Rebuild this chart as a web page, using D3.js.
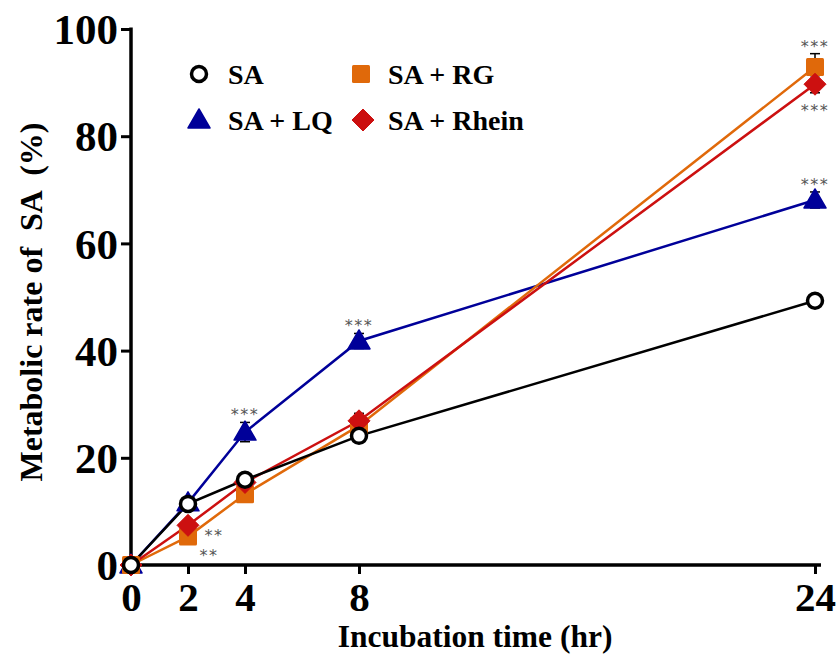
<!DOCTYPE html>
<html><head><meta charset="utf-8">
<script src="https://cdn.jsdelivr.net/npm/d3@7"></script>
<style>body{margin:0;background:#fff}svg{display:block}
.serif{font-family:"Liberation Serif","Times New Roman",Times,serif;font-weight:bold}
.star{font-family:"DejaVu Sans",sans-serif;fill:#555}
</style>
</head><body>
<svg id="c" width="837" height="658"></svg>
<script>
const times = [0, 2, 4, 8, 24];
const xTicks = [0, 2, 4, 8, 24];
const yTicks = [0, 20, 40, 60, 80, 100];
const seriesNames = ["SA", "SA + LQ", "SA + RG", "SA + Rhein"];
const saValues     = [0, 11.4, 15.9, 24.1, 49.3];
const lqValues     = [0, 11.6, 24.8, 41.8, 68.1];
const rgValues     = [0, 5.3, 13.2, 26.0, 92.9];
const rheinValues  = [0, 7.4, 15.4, 26.9, 89.7];
const lqErr        = [0, 0.5, 1.8, 1.4, 1.5];
const rgErr        = [0, 0.5, 0.8, 1.4, 2.5];
const rheinErr     = [0, 0.5, 0.8, 1.4, 1.6];
const saErr        = [0, 0.4, 0.6, 0.6, 0.5];
// significance labels: [series, time index, text, position]
const sigMarks = [
  ["SA + LQ", 2, "***", "above"],
  ["SA + LQ", 3, "***", "above"],
  ["SA + LQ", 4, "***", "above"],
  ["SA + RG", 4, "***", "above"],
  ["SA + Rhein", 4, "***", "below"],
  ["SA + Rhein", 1, "**", "right"],
  ["SA + RG", 1, "**", "belowright"]
];

const svg = d3.select("#c");
const x = d3.scaleLinear().domain([0, 24]).range([131, 815]);
const y = d3.scaleLinear().domain([0, 100]).range([565, 29]);

const series = [
  {name: "SA + LQ", vals: lqValues, err: lqErr, color: "#000099", shape: "tri"},
  {name: "SA + RG", vals: rgValues, err: rgErr, color: "#E0690A", shape: "sq"},
  {name: "SA + Rhein", vals: rheinValues, err: rheinErr, color: "#CC1010", shape: "dia"},
  {name: "SA", vals: saValues, err: saErr, color: "#000000", shape: "circ"}
];

function marker(g, shape, color, cx, cy) {
  if (shape === "circ") {
    g.append("circle").attr("cx", cx).attr("cy", cy).attr("r", 7.5)
      .attr("fill", "#fff").attr("stroke", color).attr("stroke-width", 3.5);
  } else if (shape === "sq") {
    g.append("rect").attr("x", cx - 9).attr("y", cy - 9).attr("width", 18).attr("height", 18)
      .attr("rx", 1.5).attr("fill", color);
  } else if (shape === "tri") {
    g.append("path").attr("d", `M${cx},${cy-11}L${cx+11},${cy+8}L${cx-11},${cy+8}Z`)
      .attr("fill", color).attr("stroke", color).attr("stroke-width", 1.5).attr("stroke-linejoin", "round");
  } else if (shape === "dia") {
    g.append("path").attr("d", `M${cx},${cy-11}L${cx+11},${cy}L${cx},${cy+11}L${cx-11},${cy}Z`)
      .attr("fill", color).attr("stroke", color).attr("stroke-width", 1).attr("stroke-linejoin", "round");
  }
}

// axes
const yAxis = d3.axisLeft(y).tickValues(yTicks).tickSize(10).tickFormat(d3.format("d"));
const gy = svg.append("g").attr("transform", "translate(131,0)").call(yAxis).attr("font-family", null);
gy.select(".domain").attr("stroke", "#000").attr("stroke-width", 3.5).attr("d", "M0,565V27.5");
gy.selectAll(".tick line").attr("stroke", "#000").attr("stroke-width", 3);
gy.selectAll(".tick text").attr("class", "serif").style("font-size", "43px")
  .attr("x", -13).attr("dy", "0.34em").attr("fill", "#000");

const xAxis = d3.axisBottom(x).tickValues(xTicks).tickSize(9).tickFormat(d3.format("d"));
const gx = svg.append("g").attr("transform", "translate(0,565)").call(xAxis).attr("font-family", null);
gx.select(".domain").attr("stroke", "#000").attr("stroke-width", 3.5).attr("d", "M129.5,0H821");
gx.selectAll(".tick line").attr("stroke", "#000").attr("stroke-width", 3);
gx.selectAll(".tick text").attr("class", "serif").style("font-size", "41px")
  .attr("y", 0).attr("dy", "1.11em").attr("fill", "#000");

// axis titles
svg.append("text").attr("class", "serif").attr("x", 475).attr("y", 647).attr("text-anchor", "middle")
  .style("font-size", "31.5px").text("Incubation time (hr)");
svg.append("text").attr("class", "serif").attr("transform", "translate(42,302) rotate(-90)")
  .attr("text-anchor", "middle").style("font-size", "32px").style("white-space", "pre")
  .text("Metabolic rate of  SA  (%)");

// error bars, lines
const line = d3.line().x((d, i) => x(times[i])).y(d => y(d));
series.forEach(s => {
  const g = svg.append("g");
  s.vals.forEach((v, i) => {
    if (s.err[i] > 0.6) {
      g.append("line").attr("x1", x(times[i])).attr("x2", x(times[i]))
        .attr("y1", y(v - s.err[i])).attr("y2", y(v + s.err[i])).attr("stroke", "#000").attr("stroke-width", 1.5);
      [v - s.err[i], v + s.err[i]].forEach(e => g.append("line")
        .attr("x1", x(times[i]) - 5).attr("x2", x(times[i]) + 5).attr("y1", y(e)).attr("y2", y(e))
        .attr("stroke", "#000").attr("stroke-width", 1.5));
    }
  });
  g.append("path").datum(s.vals).attr("d", line).attr("fill", "none")
    .attr("stroke", s.color).attr("stroke-width", 2.5);
});
// markers
series.forEach(s => {
  const g = svg.append("g");
  s.vals.forEach((v, i) => marker(g, s.shape, s.color, x(times[i]), y(v)));
});

// significance stars
sigMarks.forEach(([name, i, txt, pos]) => {
  const s = series.find(d => d.name === name);
  const v = s.vals[i], e = s.err[i];
  const cx = x(times[i]), cy = y(v);
  let tx = cx, ty = cy;
  if (pos === "above") { ty = y(v + e) - 2; }
  if (pos === "below") { ty = y(v - e) + 23; }
  if (pos === "right") { tx = cx + 26; ty = cy + 16; }
  if (pos === "belowright") { tx = cx + 21; ty = cy + 24; }
  svg.append("text").attr("class", "star").attr("x", tx).attr("y", ty).attr("text-anchor", "middle")
    .style("font-size", "16px").style("letter-spacing", "1.5px").text(txt);
});

// legend
const legend = [
  {name: seriesNames[0], shape: "circ", color: "#000000", lx: 199, ly: 74},
  {name: seriesNames[2], shape: "sq", color: "#E0690A", lx: 361, ly: 74},
  {name: seriesNames[1], shape: "tri", color: "#000099", lx: 199, ly: 120},
  {name: seriesNames[3], shape: "dia", color: "#CC1010", lx: 363, ly: 120}
];
const lg = svg.append("g");
legend.forEach(d => {
  marker(lg, d.shape, d.color, d.lx, d.ly);
  lg.append("text").attr("class", "serif").attr("x", d.lx < 300 ? 228 : 388).attr("y", d.ly + 10)
    .style("font-size", "28px").text(d.name);
});
</script>
</body></html>
